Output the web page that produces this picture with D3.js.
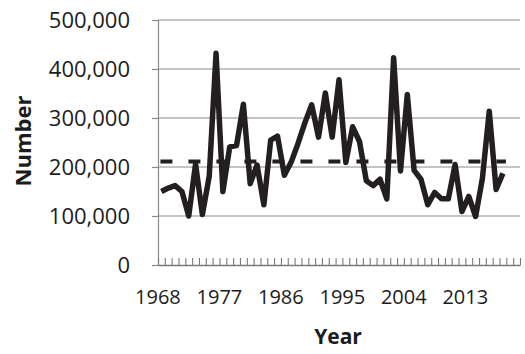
<!DOCTYPE html>
<html>
<head>
<meta charset="utf-8">
<script src="https://cdn.jsdelivr.net/npm/d3@7"></script>
<style>
  html, body { margin: 0; padding: 0; background: #fff; }
  svg { display: block; }
</style>
</head>
<body>
<svg id="chart" width="525" height="354"></svg>
<script>
const years = d3.range(1968, 2019);
const values = [
  150000, 157000, 162000, 150000, 100000, 206000, 103000, 181000, 432000, 150000,
  241000, 244000, 328000, 166000, 204000, 123000, 255000, 263000, 183000, 210000,
  248000, 290000, 327000, 261000, 351000, 261000, 378000, 209000, 282000, 252000,
  172000, 162000, 175000, 135000, 423000, 192000, 348000, 193000, 175000, 123000,
  148000, 135000, 135000, 205000, 109000, 140000, 99000, 177000, 314000, 154000,
  187000
];
const yTicks = [0, 100000, 200000, 300000, 400000, 500000];
const xLabelYears = [1968, 1977, 1986, 1995, 2004, 2013];
const axisFirstYear = 1968, axisLastYear = 2020;

const data = years.map((yr, i) => ({ year: yr, value: values[i] }));
const meanValue = d3.mean(values);

const svg = d3.select("#chart");
const mLeft = 158, mRight = 520, mTop = 20, mBottom = 265;

const x = d3.scaleLinear().domain([axisFirstYear - 0.5, axisLastYear + 0.5]).range([mLeft, mRight]);
const y = d3.scaleLinear().domain([0, 500000]).range([mBottom, mTop]);

const font = "'Open Sans', 'Noto Sans', sans-serif";

// gridlines + y axis
const yAxis = d3.axisLeft(y).tickValues(yTicks).tickSize(6).tickPadding(22)
  .tickFormat(d3.format(","));
const gy = svg.append("g").attr("transform", `translate(${mLeft},0)`).call(yAxis);
gy.select(".domain").attr("stroke", "#8a8a8a").attr("stroke-width", 1.2);
gy.selectAll(".tick line").attr("stroke", "#8a8a8a").attr("stroke-width", 1.2);
gy.selectAll(".tick text").attr("font-family", font).attr("font-size", 22).attr("fill", "#1c1c1c");

const grid = svg.append("g");
grid.selectAll("line").data(yTicks.filter(d => d > 0)).join("line")
  .attr("x1", mLeft).attr("x2", mRight)
  .attr("y1", d => y(d)).attr("y2", d => y(d))
  .attr("stroke", "#8a8a8a").attr("stroke-width", 1.2);

// x axis: ticks inside at category boundaries
const tickBounds = d3.range(axisFirstYear - 0.5, axisLastYear + 1, 1);
const xAxisTicks = d3.axisBottom(x).tickValues(tickBounds).tickSize(-7).tickFormat("").tickSizeOuter(0);
const gx = svg.append("g").attr("transform", `translate(0,${mBottom})`).call(xAxisTicks);
gx.select(".domain").attr("stroke", "#7a7a7a").attr("stroke-width", 1.3);
gx.selectAll(".tick line").attr("stroke", "#7a7a7a").attr("stroke-width", 1.1);

const xAxisLabels = d3.axisBottom(x).tickValues(xLabelYears).tickSize(0).tickPadding(25)
  .tickFormat(d3.format("d"));
const gxl = svg.append("g").attr("transform", `translate(0,${mBottom})`).call(xAxisLabels);
gxl.select(".domain").remove();
gxl.selectAll(".tick text").attr("font-family", font).attr("font-size", 20).attr("fill", "#1c1c1c")
  .attr("dx", -4);

// mean dashed line
svg.append("line")
  .attr("x1", x(years[0]) - 1).attr("x2", x(years[years.length - 1]) + 3)
  .attr("y1", y(meanValue)).attr("y2", y(meanValue))
  .attr("stroke", "#231f20").attr("stroke-width", 4)
  .attr("stroke-dasharray", "12,16");

// data line
const line = d3.line().x(d => x(d.year)).y(d => y(d.value));
svg.append("path").datum(data)
  .attr("d", line)
  .attr("fill", "none")
  .attr("stroke", "#231f20")
  .attr("stroke-width", 5.5)
  .attr("stroke-linejoin", "round")
  .attr("stroke-linecap", "butt");

// axis titles
svg.append("text")
  .attr("transform", "translate(31,141) rotate(-90)")
  .attr("text-anchor", "middle")
  .attr("font-family", font).attr("font-weight", "bold").attr("font-size", 22)
  .attr("fill", "#1c1c1c")
  .text("Number");

svg.append("text")
  .attr("x", 338).attr("y", 344)
  .attr("text-anchor", "middle")
  .attr("font-family", font).attr("font-weight", "bold").attr("font-size", 21)
  .attr("fill", "#1c1c1c")
  .text("Year");
</script>
</body>
</html>
